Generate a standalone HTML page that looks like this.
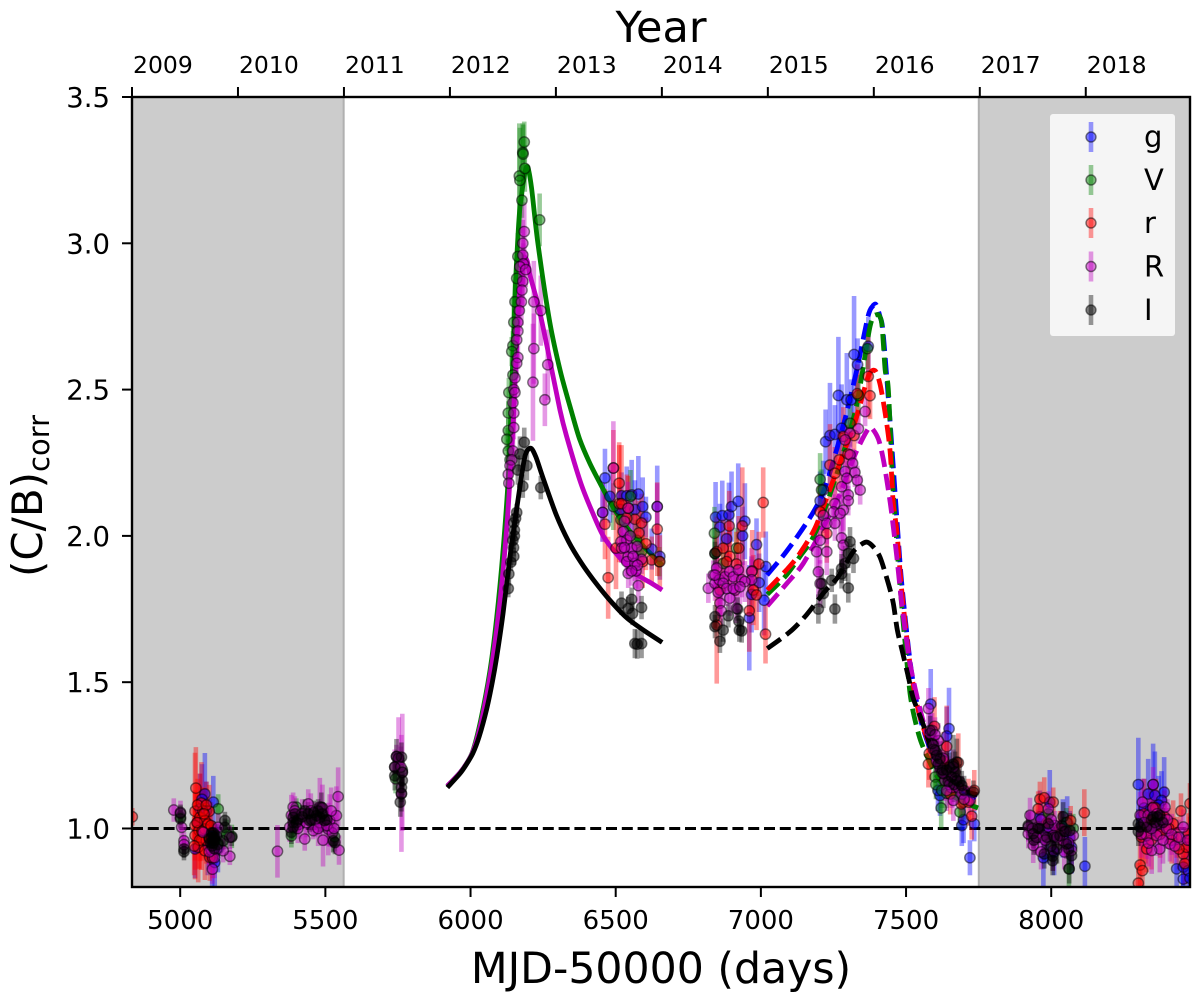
<!DOCTYPE html>
<html lang="en">
<head>
<meta charset="utf-8">
<title>(C/B)corr light curve</title>
<style>
html,body{margin:0;padding:0;background:#fff;width:1200px;height:998px;overflow:hidden}
svg{display:block;font-family:"DejaVu Sans","Liberation Sans",sans-serif;fill:#000}
</style>
</head>
<body>
<svg id="chart" width="1200" height="998" viewBox="0 0 1200 998" xmlns="http://www.w3.org/2000/svg">
  <defs><clipPath id="plot-clip"><rect x="132" y="97" width="1058" height="790"/></clipPath></defs>
  <g id="spans" clip-path="url(#plot-clip)"></g>
  <g id="plot" clip-path="url(#plot-clip)"></g>
  <g id="axes"></g>
  <g id="legend"></g>
  <text x="661" y="42" font-size="43" text-anchor="middle">Year</text>
  <text x="661" y="983" font-size="42.6" text-anchor="middle">MJD-50000 (days)</text>
  <text transform="translate(42,496) rotate(-90)" font-size="42" text-anchor="middle">(C/B)<tspan font-size="29" dy="7">corr</tspan></text>
</svg>
<script>
// Tick labels
const xTicks = [5000, 5500, 6000, 6500, 7000, 7500, 8000];
const yTicks = [1.0, 1.5, 2.0, 2.5, 3.0, 3.5];
const yearLabels = [2009, 2010, 2011, 2012, 2013, 2014, 2015, 2016, 2017, 2018];
const yearMjd = [4834, 5199, 5564, 5929, 6294, 6659, 7024, 7389, 7754, 8119];
const shadedSpans = [[4834, 5563], [7754, 8478]];
const referenceLevel = 1.0;

// Measurements per band: [mjd, value, error]
const gPoints = [[5051,.93,.1],[5060,1.02,.09],[5068,1.067,.12],[5085,1.118,.14],[5075,1.1,.12],[5090,1.06,.1],[5114,1.09,.09],[5100,.98,.12],[5095,.94,.1],[5119,.884,.09],[5110,.9,.1],[5130,.93,.08],
[6463,2.198,.1],[6480,2.135,.09],[6455,2.08,.1],[6520,2.137,.08],[6538,2.137,.1],[6555,2.14,.12],[6578,2.143,.13],[6566,2.09,.1],[6593,2.1,.1],[6604,2.064,.07],[6643,2.1,.14],[6624,1.955,.07],[6652,1.93,.08],[6515,2.09,.08],
[6844,2.064,.12],[6867,2.069,.12],[6890,2.072,.11],[6899,2.1,.12],[6922,2.118,.13],[6945,2.05,.13],[6937,2,.1],[6859,2.03,.08],[6882,1.99,.09],[6985,1.97,.09],[7017,1.895,.12],[6994,1.84,.1],[6968,1.8,.13],[7011,1.78,.12],[6960,1.72,.18],
[7370,2.648,.1],[7321,2.62,.2],[7333,2.585,.09],[7267,2.48,.2],[7296,2.465,.16],[7311,2.465,.07],[7223,2.322,.11],[7238,2.343,.18],[7255,2.347,.1],[7278,2.368,.15],[7204,2.12,.1],[7215,2.157,.1],
[7585,1.425,.12],[7648,1.341,.14],[7640,1.316,.1],[7617,1.113,.07],[7692,1.01,.07],[7735,1.016,.06],[7698,1.03,.08],[7610,1.13,.07],[7720,.9,.06],
[7961,1.04,.09],[7973,.9,.11],[8116,.871,.1],[8064,.97,.09],[8070,.936,.09],[7995,1.09,.11],[7985,1,.12],[8040,1,.1],[8055,1.02,.09],[8010,.92,.08],
[8300,1.15,.16],[8351,1.15,.14],[8389,1.124,.12],[8334,1.118,.12],[8357,1.113,.15],[8380,1.096,.1],[8310,1.04,.1],[8432,.862,.1],[8455,.868,.12],[8455,.827,.08],[8472,.856,.12],[8478,.83,.1],[8320,1.07,.1],[8370,1.08,.1],[8340,1.06,.1]];

const vPoints = [[5001,1.038,.04],[5131,1.067,.05],[5178,.973,.04],[5160,.98,.05],[5130,.95,.05],
[5383,.975,.04],[5400,1.073,.03],[5532,.972,.05],[5742,1.17,.05],[5765,1.2,.05],
[6185,3.346,.07],[6180,3.31,.1],[6181,3.305,.1],[6168,3.23,.18],[6170,3.215,.18],[6187,3.256,.08],[6177,3.147,.06],[6238,3.08,.09],[6163,2.955,.08],[6159,2.88,.07],[6153,2.8,.07],[6149,2.73,.09],[6146,2.65,.05],[6142,2.63,.05],[6146,2.55,.05],[6132,2.49,.05],[6130,2.42,.04],[6130,2.36,.04],[6125,2.33,.04],[6130,2.29,.04],[6136,2.26,.04],
[6551,2.135,.09],[6518,2.055,.06],[6589,1.947,.05],[6650,1.912,.05],[6492,2.1,.08],[6572,1.985,.07],
[6840,2.009,.09],[6842,1.94,.06],[6870,1.906,.07],[6916,1.958,.07],
[7204,2.193,.09],[7307,2.385,.08],[7367,2.64,.07],[7336,2.48,.07],[7209,2.157,.07],
[7600,1.176,.05],[7603,1.15,.05],[7623,1.13,.06],[7621,1.07,.07],[7686,1.056,.06],[7698,1.09,.06],[7640,1.12,.05],
[8061,.862,.09],[8076,1.0,.05],[8053,1.02,.05],[7990,1.05,.05]];

const rPoints = [[4835,1.04,.03],[5054,1.138,.14],[5073,1.087,.14],[5051,1.059,.2],[5100,1.059,.09],[5068,1.038,.15],[5085,1.027,.1],[5051,1.01,.12],[5065,.993,.13],[5085,.998,.1],[5051,.976,.15],[5073,.958,.1],[5062,.936,.12],[5085,.924,.1],[5102,.901,.08],[5112,.9,.07],[5096,1.015,.07],[5106,1.01,.08],[5078,1.06,.08],[5058,1.02,.1],[5075,.99,.1],[5090,.96,.08],[5060,1.08,.09],[5090,1.08,.08],[5067,.96,.1],[5082,1.05,.09],[5100,.97,.08],[5048,.94,.1],
[6492,2.232,.13],[6512,2.18,.14],[6463,2.04,.12],[6474,1.857,.14],[6501,1.958,.14],[6512,2.11,.2],[6543,2.095,.11],[6566,2.057,.1],[6589,2.044,.1],[6580,2.01,.11],[6604,1.973,.09],[6643,2.023,.16],[6624,1.918,.08],[6593,1.912,.09],[6538,2.06,.15],[6652,1.912,.09],[6520,2.11,.2],
[7008,2.114,.12],[6891,2.034,.12],[6936,2.034,.2],[6848,1.946,.12],[6870,1.958,.1],[6924,1.958,.11],[6893,1.93,.1],[6882,1.912,.1],[6916,1.904,.11],[6993,1.904,.11],[6970,1.88,.14],[6974,1.815,.12],[6985,1.798,.12],[6960,1.744,.14],[7016,1.664,.1],[6848,1.695,.2],[6859,1.815,.11],
[7370,2.545,.14],[7376,2.479,.08],[7332,2.486,.1],[7321,2.343,.08],[7284,2.34,.1],[7238,2.242,.14],[7270,2.26,.1],[7255,2.214,.09],[7204,2.082,.09],[7227,2.008,.1],[7300,2.28,.1],
[7598,1.349,.1],[7640,1.28,.14],[7680,1.225,.1],[7577,1.22,.08],[7735,1.13,.07],[7726,1.042,.08],[7652,1.118,.07],[7690,1.084,.07],[7715,1.09,.08],[7580,1.256,.09],[7630,1.23,.1],
[7961,1.1,.06],[7976,1.105,.07],[8007,1.09,.05],[8114,1.054,.08],[7955,1.067,.06],[8067,1.027,.05],[7985,1.02,.06],[8030,1.0,.06],
[8447,1.06,.06],[8478,1.085,.07],[8306,.875,.09],[8314,.856,.09],[8300,.813,.07],[8329,.93,.08],[8420,1.016,.08],[8432,.97,.07],[8455,.913,.06],[8466,.936,.07],[8472,.982,.07],[8311,.97,.08],[8351,1.073,.09],[8405,1.0,.07],[8340,1.03,.12],[8320,1.05,.12],[8325,.98,.1],[8345,.96,.1],[8360,1.07,.1],[8375,.98,.08],[8390,1.04,.09],[8415,.96,.08],[8440,.93,.07],[8460,.88,.07],[8478,.96,.08]];

const mPoints = [[4978,1.063,.04],[5001,1.055,.04],[5005,1.004,.04],[5013,.958,.03],[5013,.945,.03],[5171,.905,.03],[5148,.924,.04],[5108,.925,.05],[5111,.861,.05],[5079,.987,.05],[5125,.93,.05],[5171,.97,.04],[5131,1.004,.05],[5118,.9,.07],[5100,.92,.06],
[5335,.922,.09],[5389,1.073,.05],[5441,1.084,.05],[5458,.993,.03],[5429,.964,.04],[5492,.96,.09],[5544,1.109,.1],[5547,.926,.05],[5481,1.073,.1],[5515,1.027,.09],[5538,1.044,.1],[5377,1.004,.05],[5412,1.015,.05],[5383,1.045,.07],[5510,.998,.09],[5481,1.02,.04],[5524,.985,.05],[5395,1.06,.05],[5405,1,.05],[5420,1.05,.05],[5435,1.02,.05],[5450,1.06,.06],[5465,1.03,.06],[5475,1,.06],[5490,1.07,.08],[5505,1.01,.07],[5520,1.06,.08],[5530,1,.06],
[5745,1.246,.04],[5752,1.24,.14],[5739,1.21,.06],[5765,1.192,.2],[5762,1.12,.2],[5760,1.21,.07],
[6185,3.04,.1],[6180,3,.08],[6180,2.96,.1],[6182,2.93,.07],[6170,2.92,.07],[6190,2.91,.06],[6180,2.87,.08],[6177,2.84,.08],[6175,2.8,.08],[6168,2.77,.07],[6163,2.73,.06],[6163,2.7,.05],[6159,2.67,.05],[6163,2.61,.04],[6159,2.59,.05],[6153,2.54,.04],[6149,2.5,.04],[6153,2.49,.04],[6146,2.455,.04],[6149,2.42,.04],[6149,2.37,.04],[6146,2.29,.05],[6142,2.26,.05],[6136,2.24,.05],[6130,2.21,.05],[6132,2.18,.05],
[6218,2.8,.14],[6242,2.77,.12],[6218,2.64,.12],[6266,2.585,.12],[6215,2.525,.2],[6256,2.465,.09],
[6492,2.232,.16],[6543,2.095,.09],[6455,2.08,.1],[6526,2.015,.05],[6538,1.986,.05],[6518,1.98,.05],[6520,1.958,.05],[6543,1.93,.05],[6555,1.958,.06],[6574,1.964,.05],[6538,1.912,.05],[6566,1.906,.06],[6543,1.872,.05],[6570,1.88,.06],[6578,1.83,.06],[6589,1.92,.05],[6643,2.1,.08],[6530,1.96,.05],[6550,2,.05],[6560,1.93,.05],[6575,1.9,.05],[6530,2.05,.05],[6555,1.88,.05],
[6819,1.821,.05],[6836,1.866,.05],[6848,1.89,.06],[6842,1.838,.06],[6857,1.85,.06],[6876,1.86,.06],[6893,1.878,.06],[6905,1.86,.06],[6922,1.884,.06],[6934,1.85,.06],[6911,1.815,.07],[6893,1.787,.06],[6859,1.77,.05],[6863,1.744,.05],[6916,1.752,.05],[6968,1.878,.08],[6968,1.85,.07],[6945,1.844,.07],[6870,1.838,.06],[6882,1.82,.06],[6905,1.82,.05],[6928,1.826,.06],[6842,1.866,.05],[6853,1.807,.05],
[7359,2.425,.05],[7336,2.366,.05],[7307,2.351,.05],[7290,2.328,.05],[7307,2.277,.05],[7316,2.248,.05],[7290,2.22,.06],[7324,2.217,.05],[7332,2.19,.05],[7342,2.157,.05],[7278,2.168,.06],[7296,2.197,.06],[7301,2.14,.05],[7301,2.12,.05],[7284,2.088,.07],[7255,2.11,.06],[7250,2.082,.06],[7273,2.077,.07],[7215,2.07,.06],[7227,2.043,.07],[7255,2.043,.06],[7204,1.985,.08],[7192,1.946,.08],[7227,1.946,.08],[7278,1.993,.1],[7284,1.968,.1],[7198,1.877,.09],[7204,1.837,.08],
[7577,1.41,.07],[7583,1.324,.07],[7611,1.3,.06],[7594,1.284,.06],[7606,1.256,.06],[7628,1.24,.06],[7617,1.21,.06],[7646,1.187,.06],[7663,1.21,.06],[7634,1.164,.07],[7657,1.14,.07],[7680,1.14,.06],[7663,1.096,.07],[7692,1.118,.06],[7720,1.096,.05],[7590,1.335,.06],[7600,1.32,.06],[7605,1.23,.07],[7625,1.19,.07],[7650,1.15,.07],[7670,1.17,.07],[7640,1.13,.07],[7595,1.27,.06],[7700,1.1,.06],
[7927,1.045,.06],[7921,1.005,.05],[7921,.982,.05],[7938,.942,.06],[7955,1.005,.06],[7973,.976,.06],[7990,1.067,.06],[7990,1.005,.06],[8007,.976,.06],[8036,.999,.06],[8041,.959,.05],[8007,.925,.07],[8076,.976,.04],[8070,.925,.06],[7944,.976,.06],[8012,1.01,.05],[7935,1,.06],[7950,.97,.06],[7965,1.03,.06],[7980,.96,.06],[8000,1.03,.06],[8020,.97,.06],[8050,.99,.06],[8060,.95,.05],[8045,.92,.06],[7965,.92,.06],
[8314,1.09,.08],[8351,1.15,.06],[8392,1.073,.07],[8306,1.045,.08],[8329,.976,.08],[8363,1.016,.08],[8374,.93,.08],[8346,.925,.08],[8409,.947,.06],[8426,.94,.06],[8455,1.005,.06],[8363,.976,.07],[8397,1,.07],[8334,1.045,.08],[8345,1,.07],[8380,1.03,.07],[8320,1.02,.08],[8335,.95,.08],[8350,1.07,.08],[8365,1.05,.08],[8385,.96,.08],[8400,1.03,.07],[8415,.98,.07],[8440,.97,.06],[8470,.96,.06],[8310,.98,.08]];

const iPoints = [[5001,1.052,.03],[5001,1.033,.03],[5013,.93,.03],[5013,.921,.03],[5154,1.027,.03],[5154,1.004,.03],[5148,.958,.03],[5114,.985,.04],[5108,.97,.04],[5120,.96,.04],[5114,.95,.04],[5125,.975,.04],[5105,.95,.04],[5118,.93,.04],[5110,.94,.04],[5130,.945,.04],[5100,.965,.04],[5177,.97,.03],[5112,.96,.03],[5116,.97,.03],[5108,.985,.04],
[5389,1.038,.04],[5389,1.021,.04],[5383,.987,.04],[5441,1.05,.04],[5469,1.044,.04],[5486,1.073,.05],[5481,1.038,.05],[5446,1.027,.04],[5498,1.027,.04],[5527,.958,.04],[5533,.952,.04],[5389,1.004,.04],[5406,1.03,.04],[5395,1.05,.04],[5400,1.02,.04],[5420,1.04,.04],[5430,1.06,.04],[5452,1.03,.04],[5460,1.055,.04],[5475,1.06,.04],[5490,1.05,.04],[5505,1.03,.04],
[5745,1.246,.06],[5762,1.244,.05],[5739,1.21,.05],[5765,1.192,.05],[5739,1.18,.05],[5765,1.164,.05],[5762,1.118,.06],[5762,1.14,.05],[5758,1.09,.05],
[6185,2.32,.05],[6170,2.28,.06],[6194,2.24,.05],[6163,2.225,.05],[6180,2.17,.04],[6242,2.165,.04],[6159,2.08,.03],[6149,2.045,.03],[6151,2.02,.03],[6146,1.985,.03],[6151,2,.03],[6149,1.93,.03],[6139,1.91,.03],[6132,1.87,.04],[6130,1.82,.03],[6155,2.06,.03],[6148,1.96,.03],
[6520,1.77,.04],[6543,1.752,.04],[6555,1.783,.04],[6589,1.755,.04],[6566,1.632,.05],[6589,1.632,.05],[6574,1.63,.05],[6558,1.735,.04],
[6842,1.94,.04],[6842,1.724,.04],[6842,1.69,.04],[6870,1.678,.04],[6859,1.64,.04],[6888,1.727,.04],[6920,1.75,.04],[6924,1.709,.04],[6926,1.678,.04],[6934,1.675,.04],
[7307,1.98,.05],[7301,1.94,.05],[7319,1.923,.05],[7244,1.848,.04],[7278,1.888,.05],[7301,1.822,.05],[7215,1.803,.05],[7209,1.837,.05],[7255,1.75,.05],[7198,1.75,.05],[7278,1.87,.05],[7290,1.906,.06],
[7583,1.335,.05],[7600,1.267,.05],[7617,1.238,.06],[7663,1.22,.1],[7675,1.227,.08],[7640,1.2,.06],[7657,1.176,.06],[7675,1.164,.06],[7692,1.147,.05],[7732,1.124,.04],[7590,1.29,.05],[7629,1.187,.06],[7669,1.193,.07],[7650,1.21,.05],[7610,1.22,.05],[7625,1.2,.06],[7645,1.16,.06],[7665,1.15,.06],[7685,1.16,.06],[7605,1.25,.06],[7700,1.13,.05],
[7976,.913,.05],[8005,.89,.05],[8005,.905,.05],[7938,.982,.05],[7921,1.01,.05],[7990,1.016,.05],[8041,1.04,.05],[8036,1.01,.05],[8064,.993,.06],[8070,.907,.05],[8062,.862,.05],[8053,.947,.05],[8030,.975,.05],[7960,1,.05],[8010,.97,.05],[7940,.96,.05],[7955,1,.05],[7985,.97,.05],[8000,.94,.05],[8020,.93,.05],[8045,.99,.05],[8060,.93,.05],
[8300,1.016,.05],[8306,1.005,.05],[8351,1.04,.05],[8374,1.045,.05],[8329,1.005,.05],[8358,1.02,.05],[8345,1.03,.05],[8365,1.04,.05],[8385,1.02,.05],[8300,.99,.05]];

// Fitted model curves: solid section, [mjd, value]
const solidV = [[5920,1.145],[5963,1.19],[5985,1.22],[6008,1.265],[6035,1.37],[6067,1.54],[6090,1.72],[6112,1.95],[6130,2.2],[6142,2.5],[6153,2.82],[6162,3.0],[6170,3.12],[6187,3.24],[6197,3.26],[6210,3.19],[6232,3.0],[6273,2.73],[6310,2.56],[6349,2.42],[6376,2.33],[6410,2.25],[6446,2.18],[6490,2.1],[6537,2.03],[6600,1.96],[6660,1.9]];
const solidR = [[5920,1.145],[5963,1.19],[5985,1.22],[6008,1.262],[6035,1.355],[6067,1.52],[6090,1.68],[6112,1.88],[6130,2.1],[6146,2.37],[6160,2.68],[6172,2.88],[6183,2.95],[6195,2.94],[6205,2.89],[6235,2.78],[6263,2.65],[6308,2.43],[6331,2.34],[6380,2.18],[6420,2.08],[6457,2.0],[6510,1.93],[6570,1.87],[6620,1.84],[6660,1.815]];
const solidI = [[5920,1.14],[5963,1.187],[5985,1.218],[6008,1.257],[6030,1.315],[6056,1.41],[6075,1.5],[6090,1.585],[6112,1.735],[6136,1.93],[6163,2.12],[6187,2.27],[6207,2.3],[6225,2.27],[6249,2.2],[6296,2.07],[6338,1.98],[6380,1.91],[6423,1.85],[6480,1.78],[6538,1.72],[6600,1.675],[6660,1.636]];

// Fitted model curves: dashed section, [mjd, value]
const dashedG = [[7021,1.866],[7075,1.93],[7127,2.0],[7180,2.08],[7215,2.15],[7248,2.25],[7290,2.4],[7331,2.57],[7369,2.75],[7385,2.785],[7397,2.79],[7410,2.75],[7421,2.695],[7445,2.39],[7469,2.05],[7485,1.84],[7514,1.57],[7543,1.4],[7580,1.28],[7620,1.21],[7680,1.14],[7748,1.1]];
const dashedV = [[7022,1.8],[7083,1.86],[7135,1.93],[7181,1.997],[7227,2.11],[7280,2.27],[7330,2.448],[7376,2.716],[7399,2.756],[7416,2.728],[7428,2.568],[7439,2.5],[7454,2.18],[7462,2.065],[7475,1.88],[7491,1.695],[7497,1.632],[7514,1.46],[7531,1.37],[7554,1.29],[7600,1.19],[7650,1.12],[7700,1.09],[7748,1.07]];
const dashedRr = [[7022,1.815],[7094,1.89],[7134,1.94],[7186,2.026],[7237,2.158],[7306,2.34],[7330,2.408],[7370,2.545],[7393,2.565],[7410,2.52],[7428,2.42],[7445,2.29],[7456,2.11],[7468,2.02],[7485,1.815],[7514,1.56],[7543,1.4],[7580,1.29],[7620,1.22],[7680,1.15],[7740,1.115]];
const dashedRc = [[7022,1.76],[7089,1.837],[7146,1.906],[7215,2.03],[7273,2.145],[7324,2.277],[7364,2.357],[7380,2.37],[7405,2.33],[7422,2.26],[7439,2.157],[7450,2.08],[7468,1.93],[7485,1.77],[7508,1.598],[7525,1.507],[7550,1.4],[7580,1.3],[7620,1.22],[7680,1.15],[7745,1.11]];
const dashedI = [[7022,1.615],[7100,1.672],[7157,1.73],[7220,1.81],[7266,1.86],[7318,1.946],[7359,1.978],[7382,1.968],[7410,1.928],[7439,1.837],[7456,1.77],[7470,1.678],[7489,1.598],[7508,1.518],[7525,1.444],[7554,1.37],[7600,1.24],[7650,1.17],[7700,1.13],[7745,1.115]];

const NS = 'http://www.w3.org/2000/svg';
const PLOT = {left: 132, right: 1190, top: 97, bottom: 887};
const xMin = 4834, xMax = 8478, yMin = 0.8, yMax = 3.5;
function xScale(v) { return PLOT.left + (v - xMin) / (xMax - xMin) * (PLOT.right - PLOT.left); }
function yScale(v) { return PLOT.bottom - (v - yMin) / (yMax - yMin) * (PLOT.bottom - PLOT.top); }
function make(tag, parent) { const el = document.createElementNS(NS, tag); parent.appendChild(el); return el; }
function smoothPath(pts) {
  const p = pts.map(function (d) { return [xScale(d[0]), yScale(d[1])]; });
  let s = 'M' + p[0][0].toFixed(2) + ' ' + p[0][1].toFixed(2);
  for (let i = 0; i < p.length - 1; i++) {
    const a = p[Math.max(i - 1, 0)], b = p[i], c = p[i + 1], e = p[Math.min(i + 2, p.length - 1)];
    const t = 0.14;
    s += 'C' + (b[0] + (c[0] - a[0]) * t).toFixed(2) + ' ' + (b[1] + (c[1] - a[1]) * t).toFixed(2) + ' ' +
      (c[0] - (e[0] - b[0]) * t).toFixed(2) + ' ' + (c[1] - (e[1] - b[1]) * t).toFixed(2) + ' ' +
      c[0].toFixed(2) + ' ' + c[1].toFixed(2);
  }
  return s;
}

const spans = document.getElementById('spans');
const plot = document.getElementById('plot');
const axes = document.getElementById('axes');
const legend = document.getElementById('legend');

shadedSpans.forEach(function (sp) {
  const r = make('rect', spans);
  
  
  r.setAttribute('x', xScale(sp[0]) - 1);
  r.setAttribute('y', PLOT.top);
  r.setAttribute('width', xScale(sp[1]) - xScale(sp[0]) + 1);
  r.setAttribute('height', PLOT.bottom - PLOT.top);
  r.setAttribute('fill', '#cccccc');
  r.setAttribute('stroke', '#b0b0b0');
  r.setAttribute('stroke-width', '2');
});

const refLine = make('line', plot);


refLine.setAttribute('x1', PLOT.left);
refLine.setAttribute('x2', PLOT.right);
refLine.setAttribute('y1', yScale(referenceLevel));
refLine.setAttribute('y2', yScale(referenceLevel));
refLine.setAttribute('stroke', '#000');
refLine.setAttribute('stroke-width', '3');
refLine.setAttribute('stroke-dasharray', '11 4.8');

const bands = [
  {d: gPoints, c: '#0000ff', n: 'g'},
  {d: vPoints, c: '#008000', n: 'V'},
  {d: rPoints, c: '#ff0000', n: 'r'},
  {d: mPoints, c: '#bf00bf', n: 'R'},
  {d: iPoints, c: '#000000', n: 'I'}
];

// Error bars sit beneath every line and marker
bands.forEach(function (band) {
  const barGroup = make('g', plot);
  
  
  band.d.forEach(function (pt) {
    const bar = make('line', barGroup);
    
    
    bar.setAttribute('x1', xScale(pt[0]));
    bar.setAttribute('x2', xScale(pt[0]));
    bar.setAttribute('y1', yScale(pt[1] - pt[2]));
    bar.setAttribute('y2', yScale(pt[1] + pt[2]));
    bar.setAttribute('stroke', band.c);
    bar.setAttribute('stroke-width', '4.6');
    bar.setAttribute('stroke-opacity', '0.4');
  });
});

const curves = [
  {d: solidV, c: '#008000', dash: false, n: 'model-v-solid'},
  {d: solidR, c: '#bf00bf', dash: false, n: 'model-r-solid'},
  {d: solidI, c: '#000000', dash: false, n: 'model-i-solid'},
  {d: dashedG, c: '#0000ff', dash: true, n: 'model-g-dashed'},
  {d: dashedV, c: '#008000', dash: true, n: 'model-v-dashed'},
  {d: dashedRr, c: '#ff0000', dash: true, n: 'model-r-lower-dashed'},
  {d: dashedRc, c: '#bf00bf', dash: true, n: 'model-r-upper-dashed'},
  {d: dashedI, c: '#000000', dash: true, n: 'model-i-dashed'}
];
curves.forEach(function (cv) {
  const path = make('path', plot);
  
  
  path.setAttribute('d', smoothPath(cv.d));
  path.setAttribute('fill', 'none');
  path.setAttribute('stroke', cv.c);
  path.setAttribute('stroke-width', '4.8');
  if (cv.dash) { path.setAttribute('stroke-dasharray', '16.5 7'); }
});

bands.forEach(function (band) {
  const grp = make('g', plot);
  
  
  band.d.forEach(function (pt) {
    const dot = make('circle', grp);
    
    
    dot.setAttribute('cx', xScale(pt[0]));
    dot.setAttribute('cy', yScale(pt[1]));
    dot.setAttribute('r', '5.2');
    dot.setAttribute('fill', band.c);
    dot.setAttribute('fill-opacity', '0.5');
    dot.setAttribute('stroke', '#000');
    dot.setAttribute('stroke-opacity', '0.5');
    dot.setAttribute('stroke-width', '1.4');
  });
});

const frame = make('rect', axes);


frame.setAttribute('x', PLOT.left);
frame.setAttribute('y', PLOT.top);
frame.setAttribute('width', PLOT.right - PLOT.left);
frame.setAttribute('height', PLOT.bottom - PLOT.top);
frame.setAttribute('fill', 'none');
frame.setAttribute('stroke', '#000');
frame.setAttribute('stroke-width', '2.4');

function tick(x1, y1, x2, y2, name) {
  const t = make('line', axes);
  
  
  t.setAttribute('x1', x1);
  t.setAttribute('y1', y1);
  t.setAttribute('x2', x2);
  t.setAttribute('y2', y2);
  t.setAttribute('stroke', '#000');
  t.setAttribute('stroke-width', '2');
}
function label(x, y, size, anchor, str, name) {
  const t = make('text', axes);
  
  
  t.setAttribute('x', x);
  t.setAttribute('y', y);
  t.setAttribute('font-size', size);
  t.setAttribute('text-anchor', anchor);
  t.textContent = str;
}
xTicks.forEach(function (v) {
  tick(xScale(v), PLOT.bottom, xScale(v), PLOT.bottom + 10, 'x-tick');
  label(xScale(v), 929, 26, 'middle', String(v), 'x-tick-label');
});
yTicks.forEach(function (v) {
  tick(PLOT.left - 10, yScale(v), PLOT.left, yScale(v), 'y-tick');
  label(110, yScale(v) + 10, 27.5, 'end', v.toFixed(1), 'y-tick-label');
});
yearLabels.forEach(function (yr, i) {
  const px = xScale(yearMjd[i]);
  tick(px, PLOT.top - 10, px, PLOT.top, 'year-tick');
  label(px + 1, 73, 23.5, 'start', String(yr), 'year-label');
});

const legendBox = make('rect', legend);


legendBox.setAttribute('x', '1050');
legendBox.setAttribute('y', '114');
legendBox.setAttribute('width', '125');
legendBox.setAttribute('height', '222');
legendBox.setAttribute('rx', '3');
legendBox.setAttribute('fill', '#f5f5f5');
const legendRows = [137, 180, 223, 266.5, 310];
bands.forEach(function (band, i) {
  const ry = legendRows[i];
  const entry = make('g', legend);
  
  
  const b = make('line', entry);
  
  
  b.setAttribute('x1', '1091');
  b.setAttribute('x2', '1091');
  b.setAttribute('y1', ry - 15);
  b.setAttribute('y2', ry + 15);
  b.setAttribute('stroke', band.c);
  b.setAttribute('stroke-width', '4.6');
  b.setAttribute('stroke-opacity', '0.4');
  const m = make('circle', entry);
  
  
  m.setAttribute('cx', '1091');
  m.setAttribute('cy', ry);
  m.setAttribute('r', '5');
  m.setAttribute('fill', band.c);
  m.setAttribute('fill-opacity', '0.5');
  m.setAttribute('stroke', '#000');
  m.setAttribute('stroke-opacity', '0.5');
  m.setAttribute('stroke-width', '1.4');
  const t = make('text', entry);
  
  
  t.setAttribute('x', '1144');
  t.setAttribute('y', ry + 10);
  t.setAttribute('font-size', '29');
  t.textContent = band.n;
});
</script>
</body>
</html>
